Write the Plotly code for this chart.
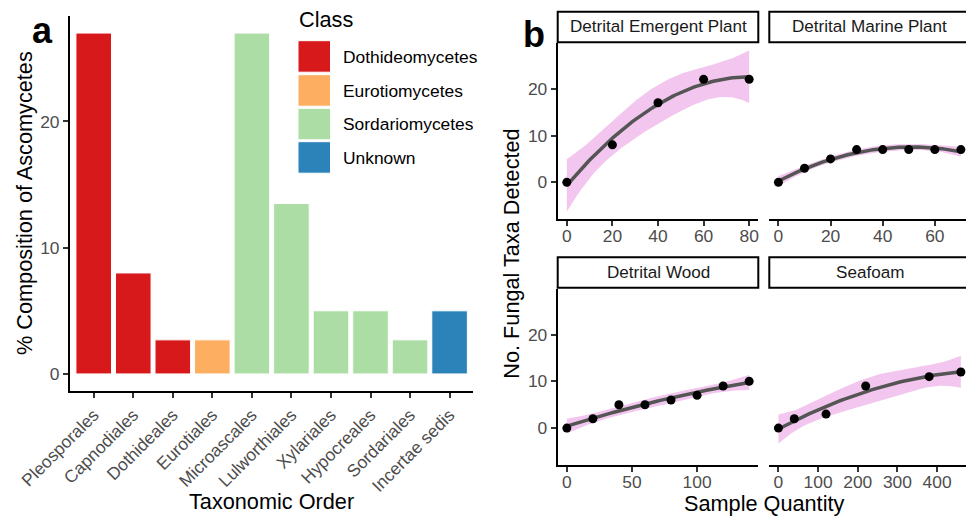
import numpy as np
import plotly.graph_objects as go

# ---------------- data: panel a ----------------
orders = ["Pleosporales", "Capnodiales", "Dothideales", "Eurotiales", "Microascales",
          "Lulworthiales", "Xylariales", "Hypocreales", "Sordariales", "Incertae sedis"]
order_class = ["Dothideomycetes", "Dothideomycetes", "Dothideomycetes", "Eurotiomycetes",
               "Sordariomycetes", "Sordariomycetes", "Sordariomycetes", "Sordariomycetes",
               "Sordariomycetes", "Unknown"]
composition = [27.0, 8.0, 2.7, 2.7, 27.0, 13.5, 5.0, 5.0, 2.7, 5.0]
classes = ["Dothideomycetes", "Eurotiomycetes", "Sordariomycetes", "Unknown"]
class_colors = ["#D7191C", "#FDAE61", "#ABDDA4", "#2B83BA"]

# ---------------- data: panel b ----------------
facets = ["Detrital Emergent Plant", "Detrital Marine Plant", "Detrital Wood", "Seafoam"]
emergent_x = [0, 20, 40, 60, 80]
emergent_y = [0, 8, 17, 22, 22]
marine_x = [0, 10, 20, 30, 40, 50, 60, 70]
marine_y = [0, 3, 5, 7, 7, 7, 7, 7]
wood_x = [0, 20, 40, 60, 80, 100, 120, 140]
wood_y = [0, 2, 5, 5, 6, 7, 9, 10]
seafoam_x = [0, 40, 120, 220, 380, 460]
seafoam_y = [0, 2, 3, 9, 11, 12]

W, H = 966, 516
def px(x):
    return x / W
def py(y):
    return 1 - y / H

# t(0.975, df) critical values for 95% confidence band
T975 = {2: 4.302653, 3: 3.182446, 5: 2.570582}

def quad_fit(x, y):
    x = np.asarray(x, float); y = np.asarray(y, float)
    sc = x.max()
    u = x / sc
    X = np.column_stack([np.ones_like(u), u, u ** 2])
    beta = np.linalg.lstsq(X, y, rcond=None)[0]
    resid = y - X @ beta
    n = len(x)
    s2 = resid @ resid / (n - 3)
    XtXi = np.linalg.inv(X.T @ X)
    us = np.linspace(u.min(), u.max(), 80)
    Xs = np.column_stack([np.ones_like(us), us, us ** 2])
    yhat = Xs @ beta
    se = np.sqrt(s2 * np.sum((Xs @ XtXi) * Xs, axis=1))
    t = T975[n - 3]
    return us * sc, yhat, yhat - t * se, yhat + t * se

fig = go.Figure()

# ---------------- panel a bars ----------------
cmap = dict(zip(classes, class_colors))
fig.add_trace(go.Bar(
    x=orders, y=composition, width=0.9,
    marker=dict(color=[cmap[c] for c in order_class], line=dict(color="white", width=1)),
    xaxis="x", yaxis="y", showlegend=False))

# ---------------- panel b ----------------
series = [(emergent_x, emergent_y), (marine_x, marine_y), (wood_x, wood_y), (seafoam_x, seafoam_y)]
axes = [("x2", "y2"), ("x3", "y3"), ("x4", "y4"), ("x5", "y5")]
for (sx, sy), (xa, ya) in zip(series, axes):
    xs, yh, lo, hi = quad_fit(sx, sy)
    fig.add_trace(go.Scatter(
        x=np.concatenate([xs, xs[::-1]]), y=np.concatenate([lo, hi[::-1]]),
        fill="toself", fillcolor="rgb(242,198,238)", line=dict(width=0),
        mode="lines", xaxis=xa, yaxis=ya, showlegend=False, hoverinfo="skip"))
    fig.add_trace(go.Scatter(
        x=xs, y=yh, mode="lines", line=dict(color="#555555", width=3.5),
        xaxis=xa, yaxis=ya, showlegend=False))
    fig.add_trace(go.Scatter(
        x=sx, y=sy, mode="markers", marker=dict(color="black", size=9),
        xaxis=xa, yaxis=ya, showlegend=False))

FONT = "Liberation Sans, Arial, sans-serif"
tickfont = dict(family=FONT, size=17.4, color="#4D4D4D")
common = dict(showline=True, linecolor="black", linewidth=2, ticks="outside",
              ticklen=5, tickwidth=2, tickcolor="#333333", tickfont=tickfont,
              showgrid=False, zeroline=False, automargin=False)
bx = dict(common, ticklabelstandoff=-5)

# panel b geometry (pixels)
LX0, LX1 = 557.7, 758.3
RX0, RX1 = 769.3, 970.0
TY0, TY1 = 43.3, 219.3
BY0, BY1 = 289.3, 465.0
YR = [-7.9, 29.7]

def crop_range(r0, r1):
    # panel extends to RX1 but the window ends at W
    return [r0, r0 + (r1 - r0) * (W - RX0) / (RX1 - RX0)]

layout = dict(
    width=W, height=H, margin=dict(l=0, r=0, t=0, b=0),
    paper_bgcolor="white", plot_bgcolor="white",
    font=dict(family=FONT, color="black"),
    xaxis=dict(common, domain=[px(70), px(473.3)], anchor="y", type="category",
               range=[-0.6, 9.6], tickangle=-45),
    yaxis=dict(common, domain=[py(391), py(16)], anchor="x", range=[-1.35, 28.35],
               tickvals=[0, 10, 20]),
    xaxis2=dict(bx, domain=[px(LX0), px(LX1)], anchor="y2", range=[-4, 84],
                tickvals=[0, 20, 40, 60, 80]),
    yaxis2=dict(common, domain=[py(TY1), py(TY0)], anchor="x2", range=YR,
                tickvals=[0, 10, 20]),
    xaxis3=dict(bx, domain=[px(RX0), 1], anchor="y3", range=crop_range(-3.5, 73.5),
                tickvals=[0, 20, 40, 60]),
    yaxis3=dict(common, domain=[py(TY1), py(TY0)], anchor="x3", range=YR,
                showline=False, ticks="", showticklabels=False),
    xaxis4=dict(bx, domain=[px(LX0), px(LX1)], anchor="y4", range=[-7, 147],
                tickvals=[0, 50, 100]),
    yaxis4=dict(common, domain=[py(BY1), py(BY0)], anchor="x4", range=YR,
                tickvals=[0, 10, 20]),
    xaxis5=dict(bx, domain=[px(RX0), 1], anchor="y5", range=crop_range(-23, 483),
                tickvals=[0, 100, 200, 300, 400]),
    yaxis5=dict(common, domain=[py(BY1), py(BY0)], anchor="x5", range=YR,
                showline=False, ticks="", showticklabels=False),
)
fig.update_layout(**layout)

shapes = []
annotations = []

def ann(text, x, y, size, color="black", xanchor="center", yanchor="middle", angle=0, bold=False):
    annotations.append(dict(
        text=f"<b>{text}</b>" if bold else text, x=px(x), y=py(y),
        xref="paper", yref="paper", xanchor=xanchor, yanchor=yanchor,
        showarrow=False, textangle=angle,
        font=dict(family=FONT, size=size, color=color)))

# legend (manual, large keys)
ann("Class", 297, 19.5, 21.7, xanchor="left")
key_tops = [40.7, 74.7, 108.3, 141.7]
for c, col, top in zip(classes, class_colors, key_tops):
    shapes.append(dict(type="rect", xref="paper", yref="paper",
                       x0=px(298), x1=px(330.5), y0=py(top + 31.5), y1=py(top),
                       fillcolor=col, line=dict(color="white", width=1)))
    ann(c, 341, top + 16, 17.4, xanchor="left")

# strips
strip_boxes = [(LX0, LX1, 11.7, 42.3), (RX0, RX1, 11.7, 42.3),
               (LX0, LX1, 257.3, 287.7), (RX0, RX1, 257.3, 287.7)]
for name, (x0, x1, y0, y1) in zip(facets, strip_boxes):
    shapes.append(dict(type="rect", xref="paper", yref="paper",
                       x0=px(x0), x1=px(x1), y0=py(y1), y1=py(y0),
                       fillcolor="white", line=dict(color="black", width=2)))
    ann(name, (x0 + x1) / 2, (y0 + y1) / 2, 17.1, color="#1A1A1A")

# axis titles
ann("% Composition of Ascomycetes", 24.5, 203.5, 21.7, angle=-90)
ann("Taxonomic Order", 271.7, 501, 21.7)
ann("No. Fungal Taxa Detected", 510.7, 254, 21.7, angle=-90)
ann("Sample Quantity", 763.8, 503, 21.7)

# panel tags
ann("a", 42, 30.5, 36, bold=True)
ann("b", 534, 34.5, 36, bold=True)

fig.update_layout(shapes=shapes, annotations=annotations)
fig.write_html("out.html", config={"displayModeBar": False},
               post_script="document.body.style.margin='0';document.body.style.overflow='hidden';")
